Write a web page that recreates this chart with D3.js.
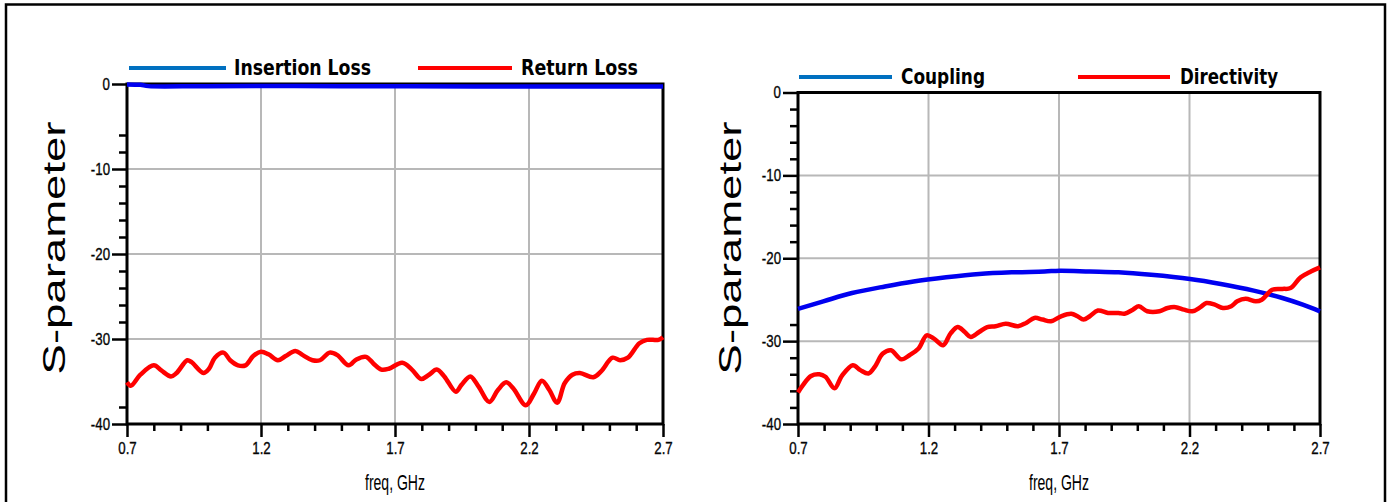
<!DOCTYPE html>
<html>
<head>
<meta charset="utf-8">
<script src="https://d3js.org/d3.v7.min.js"></script>
<style>
  body { margin: 0; background: #fff; }
  svg { display: block; }
  text { font-family: "Liberation Sans", Arial, sans-serif; fill: #000; }
  .legend text { font-family: "DejaVu Sans", Tahoma, sans-serif; font-weight: bold; }
</style>
</head>
<body>
<div id="chart"></div>
<script>
// x ticks (GHz) and y ticks (dB)
const freqTicks = [0.7, 1.2, 1.7, 2.2, 2.7];
const dbTicks = [0, -10, -20, -30, -40];
const gridFreq = [1.2, 1.7, 2.2];
const gridDb = [-10, -20, -30];

// minor ticks (a few are missing in the original plots)
const minorFreqLeft = [0.8, 0.9, 1.0, 1.3, 1.4, 1.5, 1.6, 1.8, 1.9, 2.0, 2.1, 2.3, 2.4, 2.5, 2.6];
const minorFreqRight = [0.8, 0.9, 1.0, 1.1, 1.3, 1.4, 1.5, 1.6, 1.8, 1.9, 2.0, 2.1, 2.3, 2.4, 2.5, 2.6];
const minorDbLeft = [-6, -8, -12, -14, -16, -18, -22, -24, -26, -28, -38];
const minorDbRight = [-2, -4, -6, -8, -12, -14, -16, -18, -28, -32, -34, -36, -38];

// left plot: insertion loss
const ilFreq = [0.7, 0.75, 0.78, 1.0, 1.5, 2.0, 2.5, 2.7];
const ilDb = [-0.05, -0.1, -0.25, -0.25, -0.25, -0.28, -0.28, -0.3];

// left plot: return loss
const rlFreq = [0.700, 0.714, 0.750, 0.800, 0.828, 0.864, 0.885, 0.925, 0.940, 0.985,
  1.006, 1.028, 1.060, 1.085, 1.114, 1.142, 1.171, 1.200, 1.228, 1.263,
  1.292, 1.328, 1.356, 1.392, 1.420, 1.456, 1.485, 1.527, 1.556, 1.592,
  1.620, 1.649, 1.677, 1.727, 1.763, 1.798, 1.827, 1.856, 1.884, 1.927,
  1.948, 1.981, 2.012, 2.052, 2.084, 2.115, 2.141, 2.188, 2.219, 2.248,
  2.276, 2.305, 2.333, 2.362, 2.390, 2.440, 2.469, 2.512, 2.540, 2.569,
  2.612, 2.640, 2.683, 2.700];
const rlDb = [-35.1, -35.5, -34.2, -33.1, -33.7, -34.4, -34.0, -32.5, -32.7, -34.0,
  -33.5, -32.2, -31.6, -32.5, -33.1, -33.1, -32.0, -31.5, -31.8, -32.5,
  -32.0, -31.4, -31.9, -32.5, -32.5, -31.6, -31.9, -33.1, -32.4, -32.1,
  -32.9, -33.6, -33.5, -32.8, -33.6, -34.7, -34.2, -33.6, -34.4, -36.2,
  -35.4, -34.4, -35.6, -37.4, -36.0, -35.1, -35.8, -37.8, -36.4, -34.9,
  -36.0, -37.5, -35.2, -34.2, -34.0, -34.5, -33.8, -32.2, -32.5, -32.2,
  -30.5, -30.1, -30.1, -29.8];

// right plot: coupling
const cpFreq = [0.7, 0.797, 0.907, 1.033, 1.143, 1.268, 1.394, 1.519, 1.645, 1.703,
  1.818, 1.928, 2.053, 2.202, 2.32, 2.446, 2.556, 2.634, 2.7];
const cpDb = [-26.1, -25.2, -24.2, -23.4, -22.8, -22.3, -21.9, -21.7, -21.6, -21.5,
  -21.6, -21.7, -22.0, -22.5, -23.1, -23.9, -24.8, -25.6, -26.4];

// right plot: directivity
const dirFreq = [0.700, 0.719, 0.750, 0.782, 0.805, 0.840, 0.868, 0.910, 0.939, 0.970,
  0.994, 1.025, 1.056, 1.096, 1.127, 1.162, 1.193, 1.221, 1.256, 1.284,
  1.312, 1.339, 1.362, 1.394, 1.425, 1.457, 1.496, 1.543, 1.574, 1.606,
  1.637, 1.669, 1.708, 1.747, 1.771, 1.794, 1.818, 1.849, 1.888, 1.928,
  1.951, 1.983, 2.006, 2.038, 2.085, 2.116, 2.147, 2.179, 2.211, 2.242,
  2.265, 2.297, 2.328, 2.360, 2.383, 2.415, 2.454, 2.477, 2.517, 2.556,
  2.587, 2.626, 2.665, 2.700];
const dirDb = [-36.2, -35.3, -34.2, -34.0, -34.3, -35.7, -34.2, -32.9, -33.5, -33.9,
  -33.1, -31.5, -31.1, -32.2, -31.7, -30.9, -29.3, -29.7, -30.5, -29.1,
  -28.3, -28.9, -29.5, -28.9, -28.3, -28.2, -27.9, -28.2, -27.8, -27.2,
  -27.4, -27.6, -27.0, -26.7, -27.0, -27.4, -27.0, -26.3, -26.6, -26.6,
  -26.7, -26.2, -25.8, -26.4, -26.4, -26.0, -25.9, -26.2, -26.4, -25.9,
  -25.4, -25.6, -26.0, -25.8, -25.2, -24.9, -25.2, -25.0, -23.8, -23.7,
  -23.6, -22.3, -21.6, -21.1];

const W = 1390, H = 502;
const lineBlue = "#0000f0", legBlue = "#0070c0", red = "#ff0000", gridGray = "#b8b8b8";

const svg = d3.select("#chart").append("svg")
  .attr("width", W).attr("height", H);

// outer frame (no bottom edge)
svg.append("path")
  .attr("d", "M6,502V4.5H1385V502")
  .attr("fill", "none").attr("stroke", "#000").attr("stroke-width", 2.5);

function squeeze(sel, factor) {
  sel.each(function () {
    const n = this.getComputedTextLength();
    d3.select(this).attr("textLength", n * factor).attr("lengthAdjust", "spacingAndGlyphs");
  });
}
function fitTo(sel, w) {
  sel.attr("textLength", w).attr("lengthAdjust", "spacingAndGlyphs");
}

function panel(cfg) {
  const x = d3.scaleLinear().domain([0.7, 2.7]).range(cfg.xr);
  const y = d3.scaleLinear().domain([-40, 0]).range(cfg.yr);
  const g = svg.append("g");

  // grid
  g.selectAll(".gx").data(gridFreq).enter().append("line")
    .attr("x1", d => x(d)).attr("x2", d => x(d))
    .attr("y1", y(0)).attr("y2", y(-40))
    .attr("stroke", gridGray).attr("stroke-width", 2);
  g.selectAll(".gy").data(gridDb).enter().append("line")
    .attr("x1", x(0.7)).attr("x2", x(2.7))
    .attr("y1", d => y(d)).attr("y2", d => y(d))
    .attr("stroke", gridGray).attr("stroke-width", 2);

  // minor ticks
  g.append("g").attr("transform", "translate(0," + y(-40) + ")")
    .call(d3.axisBottom(x).tickValues(cfg.minorX).tickSize(7).tickSizeOuter(0).tickFormat(""))
    .call(a => a.select(".domain").remove())
    .selectAll("line").attr("stroke-width", 2.5);
  g.append("g").attr("transform", "translate(" + x(0.7) + ",0)")
    .call(d3.axisLeft(y).tickValues(cfg.minorY).tickSize(8).tickSizeOuter(0).tickFormat(""))
    .call(a => a.select(".domain").remove())
    .selectAll("line").attr("stroke-width", 2.5);

  // major ticks + labels
  const ax = g.append("g").attr("transform", "translate(0," + y(-40) + ")")
    .call(d3.axisBottom(x).tickValues(freqTicks).tickSize(13).tickPadding(5).tickSizeOuter(0)
      .tickFormat(d3.format(".1f")))
    .call(a => a.select(".domain").remove());
  ax.selectAll("line").attr("stroke-width", 2.5);
  ax.selectAll("text").attr("font-size", 17).attr("fill", "#111")
    .attr("stroke", "#111").attr("stroke-width", 0.35)
    .style("font-family", '"Liberation Sans", Arial, sans-serif').call(squeeze, 0.78);

  const ay = g.append("g").attr("transform", "translate(" + x(0.7) + ",0)")
    .call(d3.axisLeft(y).tickValues(dbTicks).tickSize(15).tickPadding(2).tickSizeOuter(0)
      .tickFormat(d => String(d)))
    .call(a => a.select(".domain").remove());
  ay.selectAll("line").attr("stroke-width", 2.5);
  ay.selectAll("text").attr("font-size", 17).attr("fill", "#111")
    .attr("stroke", "#111").attr("stroke-width", 0.35)
    .style("font-family", '"Liberation Sans", Arial, sans-serif').call(squeeze, 0.78);

  // plot frame
  g.append("path")
    .attr("d", "M" + x(0.7) + "," + y(0) + "V" + y(-40) + "H" + x(2.7) + "V" + y(0) + "Z")
    .attr("fill", "none").attr("stroke", "#000").attr("stroke-width", 3);

  // data
  const line = d3.line().x(d => x(d[0])).y(d => y(d[1])).curve(d3.curveCatmullRom);
  cfg.series.forEach(s => {
    g.append("path")
      .datum(d3.zip(s.f, s.v))
      .attr("d", line)
      .attr("fill", "none").attr("stroke", s.color).attr("stroke-width", 4.5)
      .attr("stroke-linejoin", "round");
  });

  // legend
  const lg = g.append("g").attr("class", "legend");
  cfg.legend.forEach(l => {
    lg.append("line").attr("x1", l.x0).attr("x2", l.x1).attr("y1", cfg.ly).attr("y2", cfg.ly)
      .attr("stroke", l.color).attr("stroke-width", 4);
    lg.append("text").attr("x", l.tx).attr("y", cfg.ly + 7)
      .attr("font-size", 21).text(l.label).call(fitTo, l.tw);
  });

  // axis titles
  g.append("text")
    .attr("x", (cfg.xr[0] + cfg.xr[1]) / 2).attr("y", 490)
    .attr("text-anchor", "middle").attr("font-size", 22)
    .text("freq, GHz").call(fitTo, 60);
  g.append("text")
    .attr("transform", "translate(" + cfg.titleX + ",248) rotate(-90)")
    .attr("text-anchor", "middle").attr("font-size", 31)
    .text("S-parameter").call(fitTo, 253);
}

panel({
  xr: [127, 663], yr: [424, 84],
  minorX: minorFreqLeft, minorY: minorDbLeft,
  series: [
    { f: ilFreq, v: ilDb, color: lineBlue },
    { f: rlFreq, v: rlDb, color: red }
  ],
  ly: 68,
  legend: [
    { x0: 129, x1: 226, color: legBlue, tx: 234, tw: 137, label: "Insertion Loss" },
    { x0: 418, x1: 512, color: red, tx: 521, tw: 117, label: "Return Loss" }
  ],
  titleX: 65
});

panel({
  xr: [798, 1320], yr: [424, 92.5],
  minorX: minorFreqRight, minorY: minorDbRight,
  series: [
    { f: cpFreq, v: cpDb, color: lineBlue },
    { f: dirFreq, v: dirDb, color: red }
  ],
  ly: 77,
  legend: [
    { x0: 799, x1: 892, color: legBlue, tx: 901, tw: 84, label: "Coupling" },
    { x0: 1078, x1: 1170, color: red, tx: 1180, tw: 98, label: "Directivity" }
  ],
  titleX: 741
});
</script>
</body>
</html>
